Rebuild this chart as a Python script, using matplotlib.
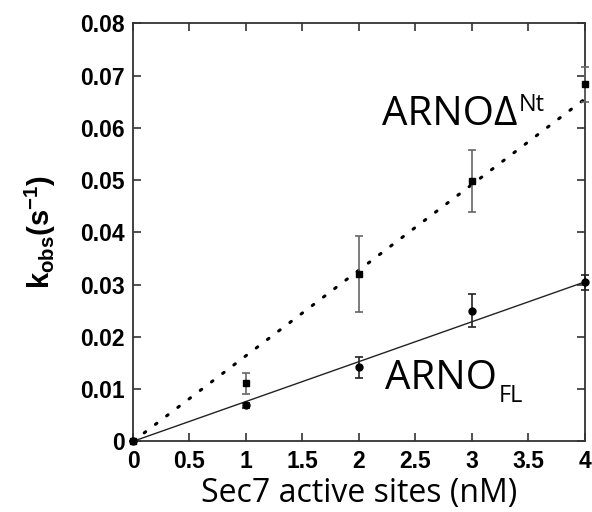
import matplotlib.pyplot as plt
import numpy as np

plt.rcParams['mathtext.fontset'] = 'custom'
plt.rcParams['mathtext.rm'] = 'Liberation Sans'
plt.rcParams['mathtext.bf'] = 'Liberation Sans:bold'
plt.rcParams['mathtext.it'] = 'Liberation Sans:italic'

# data
sites = [0, 1, 2, 3, 4]
k_dnt = [0.0, 0.0111, 0.0320, 0.0498, 0.0683]
k_dnt_err = [0.0, 0.0020, 0.0073, 0.0060, 0.0034]
k_fl = [0.0, 0.0069, 0.0142, 0.0250, 0.0304]
k_fl_err = [0.0, 0.0005, 0.0020, 0.0032, 0.0015]

fit_x = [0, 4]
fit_dnt = [0, 0.0655]
fit_fl = [0, 0.0305]

xticks = [0, 0.5, 1, 1.5, 2, 2.5, 3, 3.5, 4]
xlabels = ['0', '0.5', '1', '1.5', '2', '2.5', '3', '3.5', '4']
yticks = [0, 0.01, 0.02, 0.03, 0.04, 0.05, 0.06, 0.07, 0.08]
ylabels = ['0', '0.01', '0.02', '0.03', '0.04', '0.05', '0.06', '0.07', '0.08']

fig = plt.figure(figsize=(5.92, 5.12), dpi=100)
ax = fig.add_axes([0.2247, 0.138, 0.7630, 0.8165])

ax.plot(fit_x, fit_dnt, color='black', lw=2.2, linestyle=(0, (0.6, 4.0)),
        dash_capstyle='round')
ax.plot(fit_x, fit_fl, color='#222222', lw=1.0)

ax.errorbar(sites, k_dnt, yerr=k_dnt_err, fmt='s', ms=5, color='black',
            ecolor='#666666', elinewidth=1.2, capsize=3, capthick=1.2,
            clip_on=False, zorder=3)
ax.errorbar(sites, k_fl, yerr=k_fl_err, fmt='o', ms=5, color='black',
            ecolor='#222222', elinewidth=1.2, capsize=3, capthick=1.2,
            clip_on=False, zorder=3)

t1 = ax.text(2.203, 0.0605, 'ARNOΔ', fontsize=29, family='Open Sans',
             va='baseline', ha='left')
ax.annotate('Nt', xy=(1, 0.0605), xycoords=(t1, 'data'), xytext=(1, 10),
            textcoords='offset points', fontsize=17, family='Open Sans',
            va='baseline', ha='left')
t2 = ax.text(2.232, 0.00995, 'ARNO', fontsize=29, family='Open Sans',
             va='baseline', ha='left')
ax.annotate('FL', xy=(1, 0.00995), xycoords=(t2, 'data'), xytext=(1, -9),
            textcoords='offset points', fontsize=17, family='Open Sans',
            va='baseline', ha='left')

ax.set_xlim(0, 4)
ax.set_ylim(0, 0.08)
ax.set_xticks(xticks)
ax.set_xticklabels(xlabels)
ax.set_yticks(yticks)
ax.set_yticklabels(ylabels)
ax.tick_params(direction='in', length=6, width=1.2, top=True, right=True,
               labelsize=16.5, pad=6, color='#333333')
for lab in ax.get_xticklabels() + ax.get_yticklabels():
    lab.set_family('Liberation Sans')
    lab.set_fontweight('bold')
for sp in ax.spines.values():
    sp.set_linewidth(1.3)
    sp.set_color('#333333')

ax.set_xlabel('Sec7 active sites (nM)', fontsize=23, family='Open Sans',
              labelpad=3)
ax.set_ylabel(r'$\mathbf{k_{obs}(s^{-1})}$', fontsize=21, labelpad=16)

fig.savefig('out.png', dpi=100)
